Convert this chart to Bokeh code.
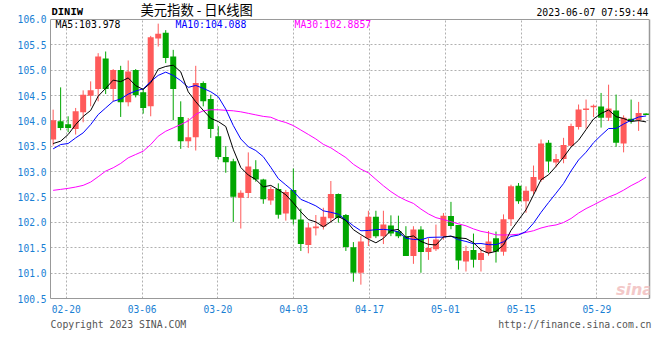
from bokeh.plotting import figure
from bokeh.models import ColumnDataSource, FixedTicker, Label, Range1d, LinearAxis, Span
from bokeh.embed import file_html
from bokeh.resources import INLINE

# ---- data (DINIW daily candles, 80 sessions) ----
opens = [103.634, 103.994, 103.935, 103.843, 104.171, 104.498, 104.629, 105.231, 104.629, 105.002,
         104.367, 105.002, 104.564, 104.288, 105.624, 105.74, 105.271, 104.079, 103.601, 103.679,
         104.747, 104.433, 103.699, 103.287, 103.208, 102.488, 102.58, 103.05, 102.848, 102.432,
         102.66, 102.178, 102.64, 102.055, 101.554, 101.885, 101.918, 102.081, 102.562, 102.146,
         101.508, 101.007, 101.69, 102.113, 101.729, 101.938, 101.827, 101.729, 101.339, 101.859,
         101.417, 101.469, 101.729, 102.125, 101.95, 101.227, 101.455, 101.26, 101.397, 101.689,
         101.423, 102.06, 102.724, 102.418, 102.613, 102.841, 103.57, 103.179, 103.251, 103.511,
         103.882, 104.214, 104.272, 104.285, 104.064, 104.207, 103.557, 104.045, 104.012, 104.149]
highs = [104.223, 104.662, 104.092, 104.256, 104.603, 104.78, 105.336, 105.369, 105.022, 105.087,
         105.192, 105.022, 104.649, 105.677, 105.918, 105.79, 105.402, 104.387, 104.059, 105.087,
         104.78, 104.518, 103.896, 103.503, 103.254, 102.632, 103.38, 103.226, 102.86, 102.705,
         102.77, 102.64, 103.063, 102.269, 101.99, 102.146, 102.289, 102.816, 102.57, 102.165,
         101.612, 101.729, 102.23, 102.23, 102.23, 102.139, 102.133, 101.925, 101.925, 101.925,
         101.69, 101.957, 102.185, 102.405, 101.95, 101.54, 101.78, 101.507, 101.832, 101.819,
         102.158, 102.743, 102.776, 102.711, 103.121, 103.635, 103.622, 103.348, 103.667, 103.947,
         104.324, 104.422, 104.324, 104.552, 104.715, 104.52, 104.11, 104.422, 104.376, 104.15]
lows = [103.516, 103.817, 103.778, 103.732, 103.974, 104.288, 104.387, 104.531, 104.387, 104.079,
        104.288, 104.465, 104.144, 104.092, 105.467, 105.14, 104.013, 103.45, 103.47, 103.417,
        104.288, 103.666, 103.241, 102.979, 102.01, 101.879, 102.48, 102.803, 102.367, 102.347,
        102.074, 102.035, 101.957, 101.437, 101.391, 101.742, 101.859, 102.003, 101.996, 101.437,
        100.831, 100.773, 101.534, 101.69, 101.573, 101.729, 101.69, 101.339, 101.183, 101.007,
        101.261, 101.437, 101.658, 101.865, 101.071, 101.032, 101.11, 101.032, 101.344, 101.208,
        101.344, 101.93, 102.366, 102.19, 102.548, 102.802, 102.984, 103.088, 103.166, 103.492,
        103.83, 103.849, 104.077, 103.869, 103.999, 103.492, 103.381, 103.947, 103.804, 104.116]
closes = [104.013, 103.863, 103.863, 104.19, 104.518, 104.603, 105.271, 104.629, 105.002, 104.367,
          104.976, 104.505, 104.256, 105.651, 105.72, 105.24, 104.629, 103.601, 103.679, 104.747,
          104.387, 103.843, 103.287, 103.188, 102.507, 102.586, 103.10, 102.848, 102.458, 102.66,
          102.152, 102.601, 102.055, 101.573, 101.899, 101.918, 102.113, 102.562, 102.087, 101.515,
          101.007, 101.625, 102.113, 101.729, 101.957, 101.781, 101.729, 101.339, 101.859, 101.417,
          101.495, 101.664, 102.133, 101.93, 101.247, 101.436, 101.266, 101.397, 101.624, 101.423,
          102.06, 102.711, 102.418, 102.626, 102.893, 103.557, 103.199, 103.251, 103.524, 103.901,
          104.227, 104.246, 104.298, 104.064, 104.246, 103.57, 104.064, 103.999, 104.155, 104.116]
ma5 = [103.555, 103.601, 103.732, 103.928, 104.089, 104.207, 104.489, 104.642, 104.805, 104.774,
       104.849, 104.696, 104.621, 104.751, 105.022, 105.074, 105.099, 104.968, 104.574, 104.379,
       104.209, 104.051, 103.989, 103.890, 103.442, 103.082, 102.934, 102.846, 102.700, 102.730,
       102.644, 102.544, 102.385, 102.208, 102.056, 102.009, 101.912, 102.013, 102.116, 102.039,
       101.857, 101.759, 101.669, 101.598, 101.686, 101.841, 101.862, 101.707, 101.733, 101.625,
       101.568, 101.555, 101.714, 101.728, 101.694, 101.682, 101.602, 101.455, 101.394, 101.429,
       101.554, 101.843, 102.047, 102.248, 102.542, 102.841, 102.939, 103.105, 103.285, 103.486,
       103.620, 103.830, 104.039, 104.147, 104.216, 104.085, 104.048, 103.989, 104.007, 103.981]
ma10 = [103.45, 103.535, 103.555, 103.666, 103.765, 103.928, 104.125, 104.256, 104.387, 104.432,
        104.528, 104.592, 104.632, 104.778, 104.898, 104.962, 104.898, 104.795, 104.662, 104.700,
        104.642, 104.575, 104.478, 104.232, 103.911, 103.645, 103.493, 103.417, 103.295, 103.086,
        102.863, 102.739, 102.616, 102.454, 102.393, 102.326, 102.228, 102.199, 102.162, 102.048,
        101.933, 101.835, 101.841, 101.857, 101.863, 101.849, 101.811, 101.688, 101.665, 101.656,
        101.704, 101.708, 101.710, 101.730, 101.659, 101.625, 101.579, 101.584, 101.561, 101.562,
        101.618, 101.723, 101.751, 101.821, 101.985, 102.198, 102.391, 102.576, 102.766, 103.014,
        103.231, 103.384, 103.572, 103.716, 103.851, 103.853, 103.939, 104.014, 104.077, 104.099]
ma30 = [102.632, 102.651, 102.671, 102.697, 102.73, 102.795, 102.9, 103.011, 103.077, 103.162,
        103.273, 103.339, 103.404, 103.535, 103.699, 103.797, 103.863, 103.93, 104.0, 104.13,
        104.2, 104.22, 104.22, 104.21, 104.2, 104.18, 104.15, 104.12, 104.09, 104.073,
        104.011, 103.969, 103.909, 103.821, 103.734, 103.645, 103.539, 103.470, 103.373, 103.278,
        103.146, 103.050, 102.978, 102.848, 102.722, 102.607, 102.510, 102.435, 102.374, 102.263,
        102.167, 102.094, 102.056, 102.014, 101.972, 101.933, 101.872, 101.824, 101.796, 101.755,
        101.752, 101.755, 101.768, 101.803, 101.836, 101.890, 101.927, 101.950, 101.998, 102.077,
        102.184, 102.272, 102.345, 102.422, 102.499, 102.558, 102.636, 102.725, 102.801, 102.891]

x_tick_pos = [1.75, 11.85, 21.95, 32.05, 42.15, 52.25, 62.35, 72.45]
x_tick_labels = ["02-20", "03-06", "03-20", "04-03", "04-17", "05-01", "05-15", "05-29"]
y_ticks = [100.5, 101.0, 101.5, 102.0, 102.5, 103.0, 103.5, 104.0, 104.5, 105.0, 105.5, 106.0]
y_tick_labels = ["100.5", "101.0", "101.5", "102.0", "102.5", "103.0",
                 "103.5", "104.0", "104.5", "105.0", "105.5", "106.0"]
y_lo, y_hi = 100.5, 106.0

title_code = "DINIW"
title_text = "美元指数 - 日K线图"
timestamp = "2023-06-07 07:59:44"
ma5_text = "MA5:103.978"
ma10_text = "MA10:104.088"
ma30_text = "MA30:102.8857"
footer_pos = [8.7, 69.5]
footer_labels = ["Copyright 2023 SINA.COM", "http://finance.sina.com.cn"]

# ---- styles ----
RED = "#ff5a5a"
GREEN = "#00a600"
AXIS_BLUE = "#1a7fd4"
BORDER = "#999999"
MONO = "DejaVu Sans Mono"

idx = list(range(len(closes)))
colors = [RED if c >= o else GREEN for o, c in zip(opens, closes)]
src = ColumnDataSource(dict(
    x=idx, o=opens, h=highs, l=lows, c=closes,
    top=[max(o, c) for o, c in zip(opens, closes)],
    bot=[min(o, c) for o, c in zip(opens, closes)],
    color=colors,
))

# The frame reaches up to the top of the canvas so that the header texts live inside it;
# axes, grid and border are bounded to the 100.5 .. 106.0 price band.
p = figure(width=652, height=340,
           x_range=Range1d(-0.35, 79.45), y_range=Range1d(y_lo, 106.3744),
           output_backend="svg", toolbar_location=None,
           min_border_left=50, min_border_right=3, min_border_top=0, min_border_bottom=42,
           background_fill_color="white", border_fill_color="white")
p.outline_line_color = None

p.xaxis.ticker = FixedTicker(ticks=x_tick_pos)
p.xaxis.major_label_overrides = {t: s for t, s in zip(x_tick_pos, x_tick_labels)}
p.yaxis.ticker = FixedTicker(ticks=y_ticks)
p.yaxis.major_label_overrides = {t: s for t, s in zip(y_ticks, y_tick_labels)}
p.yaxis.bounds = (y_lo, y_hi)
for ax in (p.xaxis, p.yaxis):
    ax.major_tick_line_color = None
    ax.minor_tick_line_color = None
    ax.major_tick_out = 0
    ax.minor_tick_out = 0
    ax.axis_line_color = BORDER
    ax.major_label_text_color = AXIS_BLUE
    ax.major_label_text_font = MONO
    ax.major_label_text_font_size = "9.6px"
p.yaxis.major_label_standoff = 4
p.xaxis.major_label_standoff = 6

# right border as a bare axis
right_ax = LinearAxis(ticker=FixedTicker(ticks=[]), bounds=(y_lo, y_hi), axis_line_color=BORDER,
                      axis_line_width=1.5,
                      major_tick_line_color=None, minor_tick_line_color=None,
                      major_tick_out=0, minor_tick_out=0, major_label_standoff=0,
                      major_label_text_font_size="0px")
p.add_layout(right_ax, "right")

# footer row as a second bottom axis
foot_ax = LinearAxis(ticker=FixedTicker(ticks=footer_pos),
                     major_label_overrides={t: s for t, s in zip(footer_pos, footer_labels)},
                     axis_line_color=None, major_tick_line_color=None, minor_tick_line_color=None,
                     major_tick_out=0, minor_tick_out=0,
                     major_label_text_color="#555555", major_label_text_font=MONO,
                     major_label_text_font_size="9.8px", major_label_standoff=3)
p.add_layout(foot_ax, "below")

for g in (p.xgrid[0], p.ygrid[0]):
    g.grid_line_color = "#b0b0b0"
    g.grid_line_dash = "2 2"
    g.grid_line_width = 1
xg = p.xgrid[0]
if "cross_bounds" in xg.properties():
    xg.cross_bounds = (y_lo, y_hi)
else:
    xg.visible = False
    p.segment(x0=x_tick_pos, y0=[y_lo] * len(x_tick_pos), x1=x_tick_pos, y1=[y_hi] * len(x_tick_pos),
              line_color="#b0b0b0", line_dash="2 2", line_width=1)

# top border of the price band
p.add_layout(Span(location=y_hi, dimension="width", line_color=BORDER, line_width=1))

# candles
p.segment(x0="x", y0="l", x1="x", y1="h", line_color="color", line_width=1, source=src)
p.vbar(x="x", width=0.8, top="top", bottom="bot", fill_color="color", line_color=None, source=src)

# moving averages
p.line(idx, ma30, line_color="#ff00ff", line_width=1)
p.line(idx, ma10, line_color="#0000ff", line_width=1)
p.line(idx, ma5, line_color="#000000", line_width=1)


def lab(x, y, text, color="#000000", size="9.8px", font=MONO, align="left", style="normal"):
    # x, y in pixels from the frame's left / bottom edge
    p.add_layout(Label(x=x, y=y, x_units="screen", y_units="screen", text=text,
                       text_color=color, text_font_size=size, text_font=font,
                       text_align=align, text_baseline="middle", text_font_style=style))


# sina watermark
lab(584, 9, "sina", color="#f3c8c8", size="16px", font="DejaVu Sans", align="center", style="bold italic")

lab(1, 287, title_code, size="10.5px", font="Liberation Mono", style="bold")
lab(90, 289, title_text, size="13.3px", font="Noto Sans CJK SC")
lab(598, 286.3, timestamp, align="right")
lab(5, 274.3, ma5_text, color="#000000")
lab(125, 274.3, ma10_text, color="#0000ff")
lab(244, 274.3, ma30_text, color="#ff00ff")

open("out.html", "w").write(file_html(p, INLINE))
